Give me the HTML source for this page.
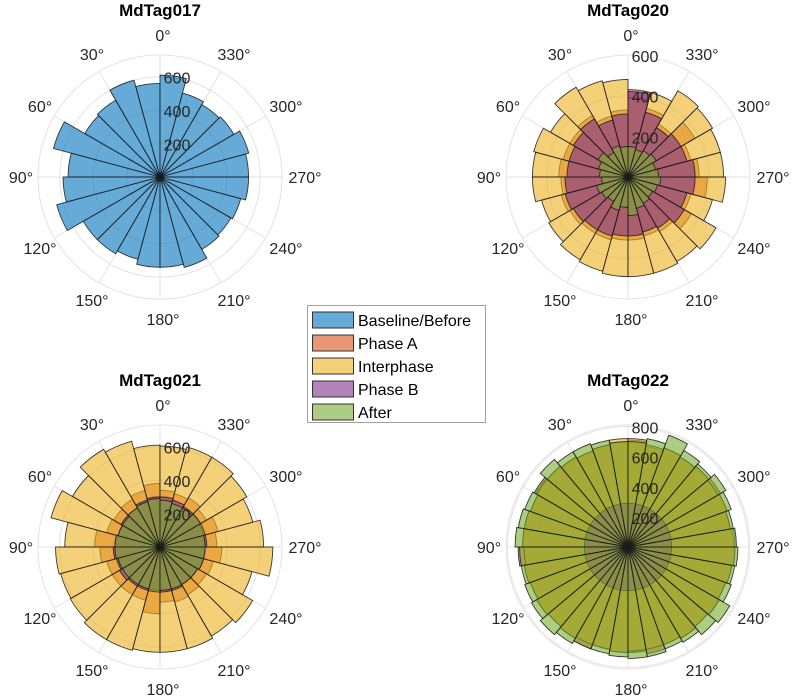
<!DOCTYPE html>
<html><head><meta charset="utf-8"><style>
body{margin:0;background:#fff;}
svg{display:block;font-family:"Liberation Sans",Arial,sans-serif;}
</style></head><body>
<svg id="chart" width="797" height="696" viewBox="0 0 797 696"></svg>
<script>
const series = ["Baseline/Before","Phase A","Interphase","Phase B","After"];
const colors = ["#0072BD","#D95319","#EDB120","#7E2F8E","#77AC30"];
const angleTicks = [0,30,60,90,120,150,180,210,240,270,300,330];
// MdTag017 (24 bins)
const p1Baseline = [560,600,530,520,660,550,580,640,530,530,510,540,540,560,500,490,500,530,530,550,510,500,520,610];
// MdTag020 (24 bins)
const p2PhaseA = [330,310,350,330,330,340,330,340,330,320,320,310,310,300,310,360,320,390,350,320,380,300,350,430];
const p2Inter = [480,490,510,440,480,470,470,440,450,470,480,490,490,490,480,500,430,480,470,470,480,490,430,390];
const p2PhaseB = [310,290,330,310,300,300,310,320,310,300,300,290,290,280,290,320,300,330,330,300,300,280,330,420];
const p2After = [150,160,140,170,150,140,130,160,150,140,170,150,190,160,150,140,150,160,150,140,160,150,140,150];
// MdTag021 (24 bins)
const p3PhaseA = [380,350,330,320,330,390,360,330,330,330,330,400,330,340,330,320,330,370,340,360,320,340,330,340];
const p3Inter = [610,655,675,605,675,570,625,615,620,640,640,630,630,630,615,640,570,675,620,575,600,620,620,605];
const p3PhaseB = [300,290,270,270,260,270,280,270,280,270,270,260,270,270,260,260,270,270,280,270,280,280,290,300];
const p3After = [290,280,270,260,260,270,270,260,260,260,260,270,260,260,260,260,270,270,270,280,280,270,270,280];
// MdTag022 (36 bins)
const p4PhaseA = [700,690,680,690,700,710,690,700,700,730,700,690,700,690,700,720,690,700,700,720,690,700,690,700,690,700,710,700,690,700,710,700,690,700,680,710];
const p4Inter = [720,690,680,690,700,700,690,700,700,690,700,690,700,690,700,690,690,700,690,690,690,700,690,700,690,700,710,710,690,700,690,700,690,700,690,720];
const p4PhaseB = [290,290,290,290,290,290,290,290,290,290,290,290,290,290,290,290,290,290,290,290,290,290,290,290,290,290,290,290,290,290,290,290,290,290,290,290];
const p4After = [700,720,730,730,760,720,730,740,750,720,720,730,740,760,740,720,720,730,740,740,720,730,760,780,730,720,730,720,710,730,750,720,740,790,730,700];
const rTicks1 = [200,400,600], rTicks2=[200,400,600], rTicks3=[200,400,600], rTicks4=[200,400,600,800];

const NS="http://www.w3.org/2000/svg";
const svg=document.getElementById('chart');
function mk(tag,attrs,parent){const e=document.createElementNS(NS,tag);for(const k in attrs)e.setAttribute(k,attrs[k]);(parent||svg).appendChild(e);return e;}
const R=122;
function pt(cx,cy,r,deg){const a=deg*Math.PI/180;return [cx-r*Math.sin(a),cy-r*Math.cos(a)];}

function polar(cfg){
  const g=mk('g',{});
  
  
  const sc=v=>v/cfg.rmax*R;
  const circles=cfg.ticks.filter(t=>t<cfg.rmax-5).concat([cfg.rmax]);
  circles.forEach(t=>{const c=mk('circle',{cx:cfg.cx,cy:cfg.cy,r:sc(t),fill:'none',stroke:'#e3e3e3','stroke-width':1},g);
    });
  angleTicks.forEach(a=>{const p=pt(cfg.cx,cfg.cy,R,a);const l=mk('line',{x1:cfg.cx,y1:cfg.cy,x2:p[0],y2:p[1],stroke:'#e3e3e3','stroke-width':1},g);
    });
  cfg.data.forEach(([vals,ci])=>{
    const w=360/vals.length;
    vals.forEach((v,i)=>{
      const a0=i*w,a1=(i+1)*w,r=sc(v);
      const p0=pt(cfg.cx,cfg.cy,r,a0),p1=pt(cfg.cx,cfg.cy,r,a1);
      const d=`M${cfg.cx},${cfg.cy}L${p0[0]},${p0[1]}A${r},${r} 0 0 0 ${p1[0]},${p1[1]}Z`;
      const b=mk('path',{d:d,fill:colors[ci],'fill-opacity':0.6,stroke:'#1a1a1a','stroke-opacity':0.85,'stroke-width':0.9},g);
      
      
    });
  });
  cfg.ticks.forEach(t=>{const tx=mk('text',{x:cfg.cx+17,y:cfg.cy-sc(t)+7,'text-anchor':'middle','font-size':16,fill:'#262626'},g);
    tx.textContent=t;});
  angleTicks.forEach(a=>{const p=pt(cfg.cx,cfg.cy,142,a);const tx=mk('text',{x:p[0]+3,y:p[1]+6,'text-anchor':'middle','font-size':16,fill:'#262626'},g);
    tx.textContent=a+'°';});
  const tt=mk('text',{x:cfg.cx,y:cfg.cy-161,'text-anchor':'middle','font-size':17,'font-weight':'bold',fill:'#000'},g);
  tt.textContent=cfg.title;
}
polar({name:'polar-mdtag017',title:'MdTag017',cx:160,cy:177,rmax:730,ticks:rTicks1,data:[[p1Baseline,0]]});
polar({name:'polar-mdtag020',title:'MdTag020',cx:628,cy:177,rmax:600,ticks:rTicks2,data:[[p2PhaseA,1],[p2Inter,2],[p2PhaseB,3],[p2After,4]]});
polar({name:'polar-mdtag021',title:'MdTag021',cx:160,cy:547,rmax:730,ticks:rTicks3,data:[[p3PhaseA,1],[p3Inter,2],[p3PhaseB,3],[p3After,4]]});
polar({name:'polar-mdtag022',title:'MdTag022',cx:628,cy:547,rmax:810,ticks:rTicks4,data:[[p4PhaseA,1],[p4Inter,2],[p4PhaseB,3],[p4After,4]]});

const lg=mk('g',{});


const lb=mk('rect',{x:307.5,y:305.5,width:178,height:117,fill:'#fff',stroke:'#a0a0a0'},lg);


series.forEach((s,i)=>{
  const y=320+i*23;
  const sw=mk('rect',{x:312.5,y:y-8,width:41,height:16,fill:colors[i],'fill-opacity':0.6,stroke:'#333'},lg);
  
  
  const t=mk('text',{x:358,y:y+6,'font-size':16,fill:'#000'},lg);
  t.textContent=s;
  
  
});
</script>
</body></html>
